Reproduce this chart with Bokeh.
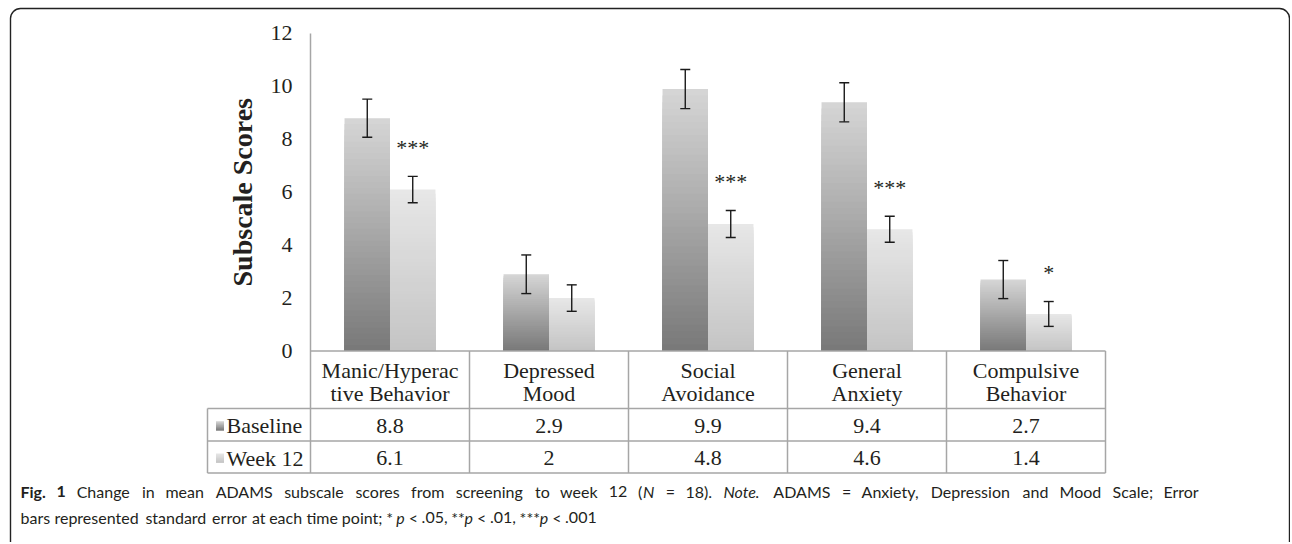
import numpy as np
from bokeh.plotting import figure
from bokeh.models import Range1d, LinearAxis, FixedTicker
from bokeh.core.properties import value
from bokeh.embed import file_html
from bokeh.resources import INLINE

# ---------------- data ----------------
cat_line1 = ["Manic/Hyperac", "Depressed", "Social", "General", "Compulsive"]
cat_line2 = ["tive Behavior", "Mood", "Avoidance", "Anxiety", "Behavior"]
series_names = ["Baseline", "Week 12"]
baseline = [8.8, 2.9, 9.9, 9.4, 2.7]
week12 = [6.1, 2.0, 4.8, 4.6, 1.4]
baseline_se = [0.72, 0.73, 0.74, 0.74, 0.72]
week12_se = [0.50, 0.50, 0.51, 0.49, 0.47]
significance = ["***", "", "***", "***", "*"]
y_ticks = [0, 2, 4, 6, 8, 10, 12]
y_label = "Subscale Scores"
# caption: **bold**, _italic_
caption_line1 = ("**Fig.** **1** Change in mean ADAMS subscale scores from screening to week 12 "
                 "(_N_ = 18). _Note._ ADAMS = Anxiety, Depression and Mood Scale; Error")
caption_line2 = "bars represented standard error at each time point; * _p_ < .05, **_p_ < .01, ***_p_ < .001"

# ---------------- layout (page pixels, figure at 0,0) ----------------
W, H = 1290, 542
AX_LEFT = 310.0      # x pixel of category 0 left edge
CAT_W = 159.0        # pixels per category
Y0 = 350.5           # y pixel of value 0
PPU = 26.46          # pixels per unit value
TABLE_LEFT = 207.0
ROW_LINES = [408.0, 440.5, 472.5]
SERIF = value("Liberation Serif")
SANS = "Lato"
TXT = "#231f20"
GRID = "#a6a6a6"
CAP_SIZE = 16.0
CAP_X0, CAP_X1 = 20.0, 1200.0
CAP_Y = [491.0, 517.0]

def px_to_x(px):
    return (px - AX_LEFT) / CAT_W

def val_to_px(v):
    return Y0 - v * PPU

p = figure(width=W, height=H,
           x_range=Range1d(px_to_x(0), px_to_x(W)),
           y_range=Range1d(-(H - Y0) / PPU, Y0 / PPU),
           x_axis_type=None, y_axis_type=None,
           output_backend="svg", toolbar_location=None,
           min_border=0, outline_line_color=None)
p.extra_x_ranges = {"px": Range1d(0, W)}
p.extra_y_ranges = {"px": Range1d(H, 0)}

n = len(baseline)
centers = np.arange(n) + 0.5
bar_w = 0.286
b_x = centers - 0.143
w_x = centers + 0.143

# ---------------- gradient bars ----------------
def gradient_bars(xs, vals, c_bottom, c_top, steps=40):
    c_bottom = np.array(c_bottom, float)
    c_top = np.array(c_top, float)
    left, right, top, color = [], [], [], []
    for k in range(steps):
        frac = 1.0 - k / steps           # tallest first, darker on top of it
        t = (steps - k - 0.5) / steps
        rgb = c_bottom + (c_top - c_bottom) * t
        col = "#%02x%02x%02x" % tuple(int(round(c)) for c in rgb)
        for x, v in zip(xs, vals):
            left.append(x - bar_w / 2)
            right.append(x + bar_w / 2)
            top.append(v * frac)
            color.append(col)
    p.quad(left=left, right=right, bottom=0, top=top, fill_color=color, line_color=None)

BASE_COLS = ((120, 120, 120), (214, 214, 214))
WEEK_COLS = ((196, 196, 196), (231, 231, 231))
gradient_bars(b_x, baseline, *BASE_COLS)
gradient_bars(w_x, week12, *WEEK_COLS)

# ---------------- error bars ----------------
cap = 5.0 / CAT_W
for xs, vals, ses in [(b_x, baseline, baseline_se), (w_x, week12, week12_se)]:
    lo = [v - s for v, s in zip(vals, ses)]
    hi = [v + s for v, s in zip(vals, ses)]
    p.segment(x0=xs, y0=lo, x1=xs, y1=hi, line_color="#1a1a1a", line_width=1.4)
    p.segment(x0=xs - cap, y0=hi, x1=xs + cap, y1=hi, line_color="#1a1a1a", line_width=1.4)
    p.segment(x0=xs - cap, y0=lo, x1=xs + cap, y1=lo, line_color="#1a1a1a", line_width=1.4)

# significance stars
star_y = [v + s + 1.1 for v, s in zip(week12, week12_se)]
p.text(x=w_x, y=star_y, text=significance, text_font=SERIF, text_font_size="22px",
       text_align="center", text_baseline="middle", text_color=TXT)

# ---------------- y axis ----------------
yaxis = LinearAxis(ticker=FixedTicker(ticks=y_ticks), fixed_location=0,
                   axis_line_color=None, major_tick_line_color=None,
                   minor_tick_line_color=None, major_tick_out=0, major_tick_in=0,
                   major_label_text_font="Liberation Serif",
                   major_label_text_font_size="22px",
                   major_label_text_color=TXT, major_label_standoff=18)
p.add_layout(yaxis, "left")

p.text(x=[242], y=[Y0 - 6 * PPU], text=[y_label], angle=np.pi / 2,
       text_font=SERIF, text_font_style="bold", text_font_size="28px",
       text_align="center", text_baseline="middle", text_color=TXT,
       x_range_name="px", y_range_name="px")

# ---------------- table under the chart ----------------
top12 = val_to_px(max(y_ticks))
vx = [px_to_x(TABLE_LEFT)] + list(range(n + 1))
vy0 = [ROW_LINES[0]] + [top12] + [Y0] * n
vy1 = [ROW_LINES[-1]] * (n + 2)
p.segment(x0=vx, y0=vy0, x1=vx, y1=vy1, line_color=GRID, line_width=1.5,
          y_range_name="px")
hx0 = [0] + [px_to_x(TABLE_LEFT)] * len(ROW_LINES)
hy = [Y0] + ROW_LINES
p.segment(x0=hx0, y0=hy, x1=[n] * len(hy), y1=hy, line_color=GRID, line_width=1.5,
          y_range_name="px")

p.text(x=centers, y=[Y0 + 19.5] * n, text=cat_line1, text_font=SERIF, text_font_size="22px",
       text_align="center", text_baseline="middle", text_color=TXT, y_range_name="px")
p.text(x=centers, y=[Y0 + 42.5] * n, text=cat_line2, text_font=SERIF, text_font_size="22px",
       text_align="center", text_baseline="middle", text_color=TXT, y_range_name="px")

row_mid = [(ROW_LINES[0] + ROW_LINES[1]) / 2, (ROW_LINES[1] + ROW_LINES[2]) / 2]
for vals, ym in zip([baseline, week12], row_mid):
    p.text(x=centers, y=[ym + 1] * n, text=["%g" % v for v in vals], text_font=SERIF,
           text_font_size="22px", text_align="center", text_baseline="middle",
           text_color=TXT, y_range_name="px")

p.text(x=[TABLE_LEFT + 19] * 2, y=[m + 1 for m in row_mid], text=series_names, text_font=SERIF,
       text_font_size="22px", text_align="left", text_baseline="middle",
       text_color=TXT, x_range_name="px", y_range_name="px")

def key_gradient(ym, c_bottom, c_top, steps=8):
    c_bottom = np.array(c_bottom, float)
    c_top = np.array(c_top, float)
    hh = 4.5
    tops, cols = [], []
    for k in range(steps):
        frac = 1.0 - k / steps
        t = (steps - k - 0.5) / steps
        rgb = c_bottom + (c_top - c_bottom) * t
        cols.append("#%02x%02x%02x" % tuple(int(round(c)) for c in rgb))
        tops.append(ym + hh - 2 * hh * frac)
    p.quad(left=TABLE_LEFT + 8.5, right=TABLE_LEFT + 16.5, bottom=ym + hh, top=tops,
           fill_color=cols, line_color=None, x_range_name="px", y_range_name="px")

key_gradient(row_mid[0] + 1, *BASE_COLS)
key_gradient(row_mid[1] + 1, *WEEK_COLS)

# ---------------- caption (word-by-word, line 1 justified) ----------------
# approximate advance widths (em) of Lato
EM = {' ': 0.19, '.': 0.21, ',': 0.21, ';': 0.21, '(': 0.30, ')': 0.30, '=': 0.58,
      '<': 0.58, '*': 0.40, 'I': 0.28, 'M': 0.89, 'N': 0.76, 'S': 0.51, 'A': 0.68,
      'D': 0.74, 'E': 0.55, 'F': 0.53, 'C': 0.67, 'a': 0.50, 'b': 0.56, 'c': 0.46,
      'd': 0.56, 'e': 0.52, 'f': 0.32, 'g': 0.50, 'h': 0.56, 'i': 0.24, 'j': 0.24,
      'k': 0.50, 'l': 0.24, 'm': 0.83, 'n': 0.56, 'o': 0.56, 'p': 0.56, 'q': 0.56,
      'r': 0.37, 's': 0.41, 't': 0.34, 'u': 0.56, 'v': 0.50, 'w': 0.77, 'x': 0.49,
      'y': 0.50, 'z': 0.44}
CAL = 1.045

def seg_width(s, style):
    w = sum(EM.get(ch, 0.58) for ch in s) * CAP_SIZE * CAL
    return w * (1.05 if style == "bold" else 1.0)

def parse_word(word):
    segs, buf, style, i = [], "", "normal", 0
    while i < len(word):
        if word.startswith("**", i) and style in ("normal", "bold") and (
                style == "bold" or word.find("**", i + 2) > i + 2 and word[i + 2] not in "*_"):
            if buf:
                segs.append((buf, style))
            buf = ""
            style = "normal" if style == "bold" else "bold"
            i += 2
        elif word[i] == "_":
            if buf:
                segs.append((buf, style))
            buf = ""
            style = "normal" if style == "italic" else "italic"
            i += 1
        else:
            buf += word[i]
            i += 1
    if buf:
        segs.append((buf, style))
    return segs

cap_items = {"normal": ([], [], []), "bold": ([], [], []), "italic": ([], [], [])}

def lay_line(text, y, justify):
    words = [parse_word(w) for w in text.split(" ")]
    widths = [sum(seg_width(s, st) for s, st in w) for w in words]
    gap = seg_width(" ", "normal")
    if justify:
        gap = (CAP_X1 - CAP_X0 - sum(widths)) / (len(words) - 1)
    x = CAP_X0
    for w, wd in zip(words, widths):
        xx = x
        for s, st in w:
            xs_, ys_, ts_ = cap_items[st]
            xs_.append(xx); ys_.append(y); ts_.append(s)
            xx += seg_width(s, st)
        x += wd + gap

lay_line(caption_line1, CAP_Y[0], True)
lay_line(caption_line2, CAP_Y[1], False)
for st, (xs_, ys_, ts_) in cap_items.items():
    if not xs_:
        continue
    p.text(x=xs_, y=ys_, text=ts_, text_font=value(SANS), text_font_style=st,
           text_font_size="%gpx" % CAP_SIZE, text_align="left", text_baseline="middle",
           text_color=TXT, x_range_name="px", y_range_name="px")

# ---------------- rounded frame ----------------
p.quad(left=10, right=1289, top=8, bottom=H + 60, fill_color=None,
       line_color="#222222", line_width=1.4, border_radius=10,
       x_range_name="px", y_range_name="px")

open("out.html", "w").write(file_html(p, INLINE))
